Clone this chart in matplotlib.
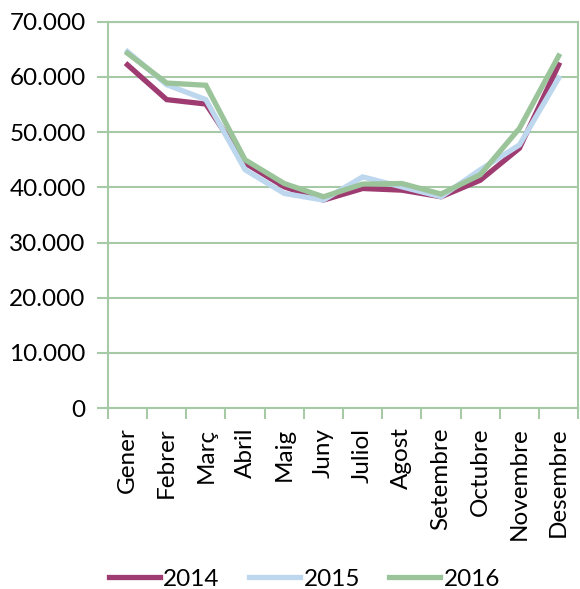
import numpy as np
import matplotlib.pyplot as plt
from matplotlib.ticker import FuncFormatter

plt.rcParams['font.family'] = ['Lato', 'DejaVu Sans']

months = ["Gener", "Febrer", "Març", "Abril", "Maig", "Juny", "Juliol",
          "Agost", "Setembre", "Octubre", "Novembre", "Desembre"]
v2014 = [62200, 55900, 55100, 44400, 40100, 37700, 39800, 39500, 38300, 41300, 47100, 62200]
v2015 = [64600, 58600, 55900, 43200, 38900, 37700, 41900, 40100, 38300, 43200, 47700, 59800]
v2016 = [64300, 58900, 58500, 45000, 40700, 38300, 40600, 40700, 38800, 42300, 50700, 63800]

grid_c = '#a6c9a6'
fig = plt.figure(figsize=(5.8, 5.89), dpi=100)
ax = fig.add_axes([0.186, 0.307, 0.811, 0.656])

x = np.arange(len(months))
ax.plot(x, v2014, color='#9e3b70', lw=3.8, label='2014', solid_joinstyle='miter')
ax.plot(x, v2015, color='#bdd7ee', lw=3.8, label='2015', solid_joinstyle='miter')
ax.plot(x, v2016, color='#9bc49b', lw=3.8, label='2016', solid_joinstyle='miter')

ax.set_xlim(-0.5, len(months) - 0.5)
ax.set_ylim(0, 70000)
ax.set_yticks(np.arange(0, 70001, 10000))
ax.yaxis.set_major_formatter(FuncFormatter(lambda v, p: '0' if v == 0 else f'{int(v):,}'.replace(',', '.')))
ax.grid(axis='y', color=grid_c, lw=1.5)
ax.set_axisbelow(True)

ax.set_xticks(x)
ax.set_xticklabels(months, rotation=90)
ax.set_xticks(np.arange(-0.5, len(months)), minor=True)
ax.tick_params(axis='x', which='major', length=0, pad=14, labelsize=17.5)
ax.tick_params(axis='x', which='minor', length=8, width=1.5, color=grid_c)
ax.tick_params(axis='y', length=8, width=1.5, color=grid_c, labelsize=17.5, pad=8)

for s in ['left', 'bottom', 'right', 'top']:
    ax.spines[s].set_color(grid_c)
    ax.spines[s].set_linewidth(1.5)

fig.legend(loc='lower center', ncol=3, frameon=False, fontsize=17.5,
           bbox_to_anchor=(0.525, -0.038), handlelength=2.1, columnspacing=1.2,
           handletextpad=0.15)

fig.savefig('out.png', dpi=100)
